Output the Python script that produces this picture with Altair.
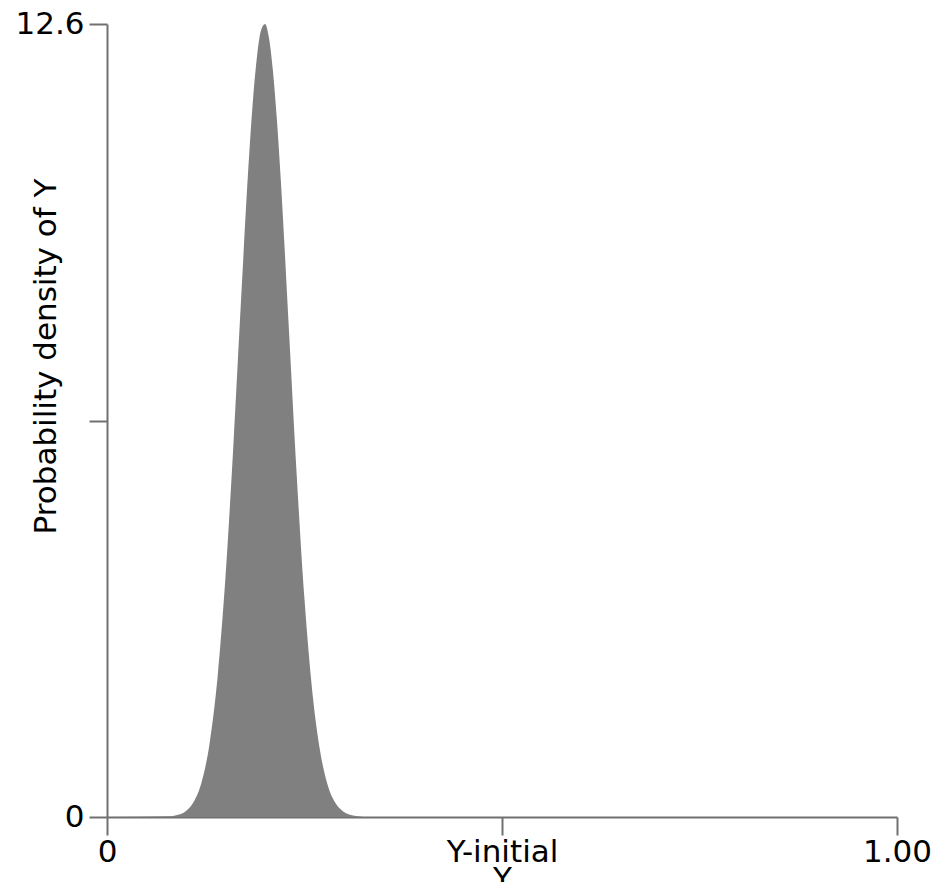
import altair as alt
import pandas as pd

# Values
y_values = [0.0, 0.011, 0.034, 0.096, 0.245, 0.565, 1.18, 2.23, 3.82, 5.91, 8.29,
            10.53, 11.43, 12.10, 12.5, 12.6, 12.38, 11.86, 11.09, 10.12, 7.81, 5.46,
            3.46, 1.98, 1.03, 0.48, 0.205, 0.079, 0.027, 0.009, 0.0, 0.0]
x_values = [0.0, 0.08, 0.09, 0.10, 0.11, 0.12, 0.13, 0.14, 0.15, 0.16, 0.17,
            0.18, 0.185, 0.19, 0.195, 0.20, 0.205, 0.21, 0.215, 0.22, 0.23, 0.24,
            0.25, 0.26, 0.27, 0.28, 0.29, 0.30, 0.31, 0.32, 0.33, 0.47]

x_tick_values = [0.0, 0.5, 1.0]
x_tick_labels = ["0", "Y-initial", "1.00"]
y_tick_values = [0.0, 6.3, 12.6]
y_tick_labels = ["0", "", "12.6"]

df = pd.DataFrame({"x": x_values, "density": y_values})

def label_expr(values, labels):
    expr = "''"
    for v, l in zip(values, labels):
        expr = f"abs(datum.value - {v}) < 1e-9 ? '{l}' : ({expr})"
    return expr

FONT = "DejaVu Sans"
FS = 31
AXIS_COLOR = "#707070"

chart = alt.Chart(df).mark_area(
    color="#808080", interpolate="monotone", opacity=1
).encode(
    x=alt.X("x:Q",
            scale=alt.Scale(domain=[0, 1], nice=False, zero=True),
            axis=alt.Axis(values=x_tick_values,
                          labelExpr=label_expr(x_tick_values, x_tick_labels),
                          title="Y", grid=False,
                          tickSize=18, tickWidth=2, domainWidth=2,
                          domainColor=AXIS_COLOR, tickColor=AXIS_COLOR,
                          labelFont=FONT, labelFontSize=FS, labelColor="black",
                          labelPadding=2, labelFlush=False, labelOverlap=False,
                          titleFont=FONT, titleFontSize=FS, titleFontWeight="normal",
                          titleColor="black", titleBaseline="top", titleY=47)),
    y=alt.Y("density:Q",
            scale=alt.Scale(domain=[0, 12.6], nice=False),
            axis=alt.Axis(values=y_tick_values,
                          labelExpr=label_expr(y_tick_values, y_tick_labels),
                          title="Probability density of Y", grid=False,
                          tickSize=18, tickWidth=2, domainWidth=2,
                          domainColor=AXIS_COLOR, tickColor=AXIS_COLOR,
                          labelFont=FONT, labelFontSize=FS, labelColor="black",
                          labelPadding=5, labelFlush=False, labelOverlap=False,
                          titleFont=FONT, titleFontSize=FS, titleFontWeight="normal",
                          titleColor="black", titleAngle=270,
                          titleBaseline="alphabetic", titleX=-52, titleY=332,
                          titleAlign="center")),
).properties(
    width=790, height=793,
    autosize=alt.AutoSizeParams(type="none"),
    padding={"left": 99, "top": 16, "right": 40, "bottom": 80},
).configure_view(stroke=None)

chart.save("out.html", embed_options={"renderer": "svg", "actions": False})
